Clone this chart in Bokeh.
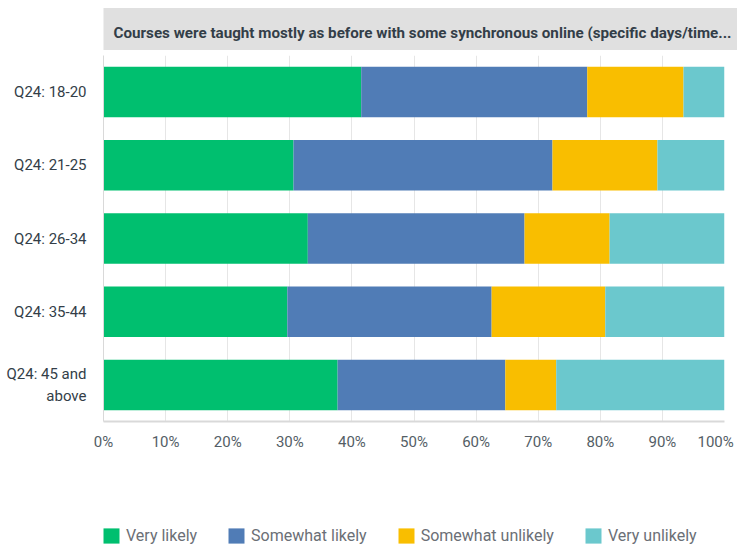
from bokeh.plotting import figure
from bokeh.layouts import column
from bokeh.models import (Range1d, Title, Legend, LegendItem,
                          FixedTicker, ColumnDataSource)
from bokeh.embed import file_html
from bokeh.resources import INLINE

# ---- data ----
categories = ["Q24: 18-20", "Q24: 21-25", "Q24: 26-34", "Q24: 35-44", "Q24: 45 and\nabove"]
very_likely = [41.5, 30.6, 32.9, 29.6, 37.7]
somewhat_likely = [36.4, 41.7, 34.9, 32.9, 27.0]
somewhat_unlikely = [15.5, 16.9, 13.7, 18.3, 8.2]
very_unlikely = [6.6, 10.8, 18.5, 19.2, 27.1]
series_names = ["Very likely", "Somewhat likely", "Somewhat unlikely", "Very unlikely"]
colors = ["#00bf6f", "#507cb6", "#f9be00", "#6bc8cd"]
x_ticks = [0, 10, 20, 30, 40, 50, 60, 70, 80, 90, 100]
x_tick_labels = ["0%", "10%", "20%", "30%", "40%", "50%", "60%", "70%", "80%", "90%",
                 "100%\u00a0"]
title_text = "Courses were taught mostly as before with some synchronous online (specific days/time..."

FONT = "Roboto"
stackers = ["vl", "sl", "su", "vu"]

source = ColumnDataSource(dict(
    y=list(range(len(categories))),
    vl=very_likely, sl=somewhat_likely, su=somewhat_unlikely, vu=very_unlikely,
))

p = figure(width=737, height=500, output_backend="svg", toolbar_location=None,
           x_range=Range1d(0, 100), y_range=Range1d(4.5, -0.5),
           min_border_left=103, min_border_right=13, min_border_top=53,
           min_border_bottom=79)
p.outline_line_color = None
p.background_fill_color = "white"

renderers = p.hbar_stack(stackers, y="y", height=0.69,
                         color=colors, line_color=None, source=source)

# axes
p.xaxis.ticker = FixedTicker(ticks=x_ticks)
p.xaxis.major_label_overrides = {t: l for t, l in zip(x_ticks, x_tick_labels)}
p.xaxis.axis_line_color = "#d9d9d9"
p.xaxis.axis_line_width = 2
p.xaxis.major_tick_line_color = None
p.xaxis.minor_tick_line_color = None
p.xaxis.major_tick_in = 0
p.xaxis.major_tick_out = 0
p.xaxis.major_label_standoff = 11
p.xaxis.major_label_text_font = FONT
p.xaxis.major_label_text_font_size = "15px"
p.xaxis.major_label_text_color = "#545e66"

p.yaxis.ticker = FixedTicker(ticks=list(range(len(categories))))
p.yaxis.major_label_overrides = {i: c for i, c in enumerate(categories)}
p.yaxis.axis_line_color = "#d9d9d9"
p.yaxis.major_tick_line_color = None
p.yaxis.minor_tick_line_color = None
p.yaxis.major_tick_in = 0
p.yaxis.major_tick_out = 0
p.yaxis.major_label_standoff = 17
p.yaxis.major_label_text_font = FONT
p.yaxis.major_label_text_font_size = "15px"
p.yaxis.major_label_text_color = "#333e48"

p.ygrid.visible = False
p.xgrid.ticker = FixedTicker(ticks=x_ticks)
p.xgrid.grid_line_color = "#e6e6e6"
p.xgrid.grid_line_width = 1

# title banner (title with padded grey background)
title = Title(text=title_text, align="left", standoff=11,
              text_font=FONT, text_font_size="15.2px", text_font_style="bold",
              text_color="#333e48",
              background_fill_color="#e0e0e0", padding=(10, 120, 16, 8))
p.add_layout(title, "above")

# legend strip (separate small figure below the chart; its bars fall outside its range)
pl = figure(width=737, height=48, output_backend="svg", toolbar_location=None,
            x_range=Range1d(0, 100), y_range=Range1d(10, 11),
            min_border_left=0, min_border_right=0, min_border_top=0, min_border_bottom=0)
pl.axis.visible = False
pl.grid.visible = False
pl.outline_line_color = None
legend_renderers = pl.hbar_stack(stackers, y="y", height=0.69,
                                 color=colors, line_color=None, source=source)
legend = Legend(items=[LegendItem(label=n, renderers=[r])
                       for n, r in zip(series_names, legend_renderers)],
                orientation="horizontal", location=(-2, 3),
                glyph_width=20, glyph_height=19, label_standoff=5, spacing=29,
                padding=0, margin=0, border_line_color=None, background_fill_alpha=0,
                label_text_font=FONT, label_text_font_size="16px",
                label_text_color="#6b6f76", label_height=20)
pl.add_layout(legend, "center")

open("out.html", "w").write(file_html(column(p, pl, spacing=0), INLINE))
